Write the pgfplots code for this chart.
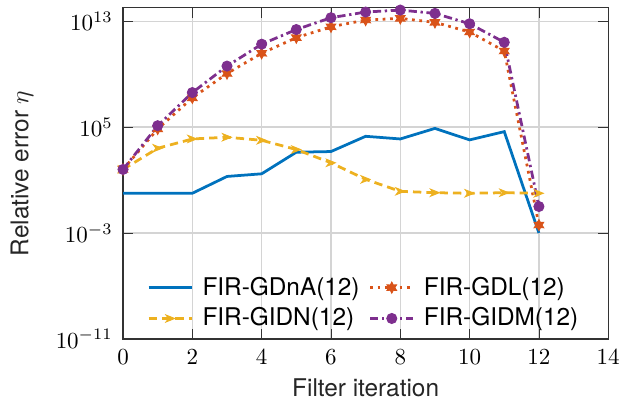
\documentclass[border=0pt]{standalone}
\usepackage{fontspec}
\setmainfont{TeX Gyre Heros}
\usepackage{pgfplots}
\pgfplotsset{compat=1.18}

\definecolor{mblue}{rgb}{0,0.447,0.741}
\definecolor{morange}{rgb}{0.85,0.325,0.098}
\definecolor{myellow}{rgb}{0.929,0.694,0.125}
\definecolor{mpurple}{rgb}{0.494,0.184,0.556}

% filled six-point star
\pgfdeclareplotmark{hexstar}{%
  \pgfpathmoveto{\pgfpointpolar{90}{\pgfplotmarksize}}%
  \pgfpathlineto{\pgfpointpolar{120}{0.55\pgfplotmarksize}}%
  \pgfpathlineto{\pgfpointpolar{150}{\pgfplotmarksize}}%
  \pgfpathlineto{\pgfpointpolar{180}{0.55\pgfplotmarksize}}%
  \pgfpathlineto{\pgfpointpolar{210}{\pgfplotmarksize}}%
  \pgfpathlineto{\pgfpointpolar{240}{0.55\pgfplotmarksize}}%
  \pgfpathlineto{\pgfpointpolar{270}{\pgfplotmarksize}}%
  \pgfpathlineto{\pgfpointpolar{300}{0.55\pgfplotmarksize}}%
  \pgfpathlineto{\pgfpointpolar{330}{\pgfplotmarksize}}%
  \pgfpathlineto{\pgfpointpolar{0}{0.55\pgfplotmarksize}}%
  \pgfpathlineto{\pgfpointpolar{30}{\pgfplotmarksize}}%
  \pgfpathlineto{\pgfpointpolar{60}{0.55\pgfplotmarksize}}%
  \pgfpathclose
  \pgfusepathqfillstroke}
% arrow head pointing right
\pgfdeclareplotmark{arrowhead}{%
  \pgfpathmoveto{\pgfqpoint{\pgfplotmarksize}{0pt}}%
  \pgfpathlineto{\pgfqpoint{-\pgfplotmarksize}{0.8\pgfplotmarksize}}%
  \pgfpathlineto{\pgfqpoint{-0.4\pgfplotmarksize}{0pt}}%
  \pgfpathlineto{\pgfqpoint{-\pgfplotmarksize}{-0.8\pgfplotmarksize}}%
  \pgfpathclose
  \pgfusepathqfillstroke}

\newcommand{\labfont}{\fontsize{10.6}{12.7}\selectfont}

\begin{document}
\begin{tikzpicture}
\begin{axis}[
    scale only axis,
    width=211pt,
    height=144pt,
    xmin=0, xmax=14,
    ymode=log,
    ymin=1e-11, ymax=1e14,
    xtick={0,2,...,14},
    ytick={1e-11,1e-3,1e5,1e13},
    grid=major,
    major grid style={black!17, line width=0.5pt},
    axis line style={black!80, line width=0.5pt},
    tick style={black!80},
    xticklabel style={yshift=-1pt},
    yticklabel style={xshift=-1pt},
    xlabel={Filter iteration},
    ylabel={Relative error $\eta$},
    every axis x label/.style={at={(rel axis cs:0.5,0)}, yshift=-21.3pt,
        anchor=center, font=\labfont, text=black!85},
    every axis y label/.style={at={(rel axis cs:0,0.5)}, xshift=-44pt,
        rotate=90, anchor=center, font=\labfont, text=black!85},
    every axis plot/.append style={line width=1.2pt},
    legend columns=2,
    legend style={at={(0.035,0.0)}, anchor=south west, draw=none, fill=none,
        font=\labfont, column sep=2pt, row sep=0pt},
    legend cell align=left,
    legend image code/.code={%
        \draw[mark repeat=2,mark phase=2,#1]
        plot coordinates {(0cm,0cm) (0.33cm,0cm) (0.66cm,0cm)};},
]
\coordinate (sw) at (rel axis cs:0,0);
% FIR-GDnA(12)
\addplot[color=mblue, solid] coordinates {
(0,1) (1,1) (2,1) (3,18.6) (4,29.5) (5,1259) (6,1413) (7,2e4)
(8,1.26e4) (9,7.9e4) (10,1.07e4) (11,4.5e4) (12,1e-3)
};
\addlegendentry{FIR-GDnA(12)}
% FIR-GDL(12)
\addplot[color=morange, dash pattern=on 1.2pt off 2pt, mark=hexstar,
    mark size=2.4pt, mark options={solid, fill=morange, line width=0.4pt}]
coordinates {
(0,63) (1,7.2e4) (2,1.6e7) (3,1.1e9) (4,3.7e10) (5,5.6e11) (6,3.7e12)
(7,1.2e13) (8,1.6e13) (9,8e12) (10,1.5e12) (11,5.5e10) (12,4e-3)
};
\addlegendentry{FIR-GDL(12)}
% FIR-GIDN(12)
\addplot[color=myellow, dash pattern=on 3.6pt off 2.2pt, mark=arrowhead,
    mark size=1.9pt, mark options={solid, fill=myellow, line width=0.4pt}]
coordinates {
(0,63) (1,2.5e3) (2,1.26e4) (3,1.7e4) (4,1e4) (5,2e3) (6,200)
(7,11.2) (8,1.4) (9,1.1) (10,1) (11,1.1) (12,1)
};
\addlegendentry{FIR-GIDN(12)}
% FIR-GIDM(12)
\addplot[color=mpurple, dash pattern=on 3.6pt off 1.6pt on 1pt off 1.6pt,
    mark=*, mark size=2.2pt, mark options={solid, fill=mpurple, line width=0.4pt}]
coordinates {
(0,63) (1,1.26e5) (2,4e7) (3,4e9) (4,1.8e11) (5,2.3e12) (6,1.8e13)
(7,4.8e13) (8,6.8e13) (9,3.8e13) (10,6.3e12) (11,2.5e11) (12,0.1)
};
\addlegendentry{FIR-GIDM(12)}
\end{axis}
\pgfresetboundingbox
\path ([shift={(-53.5pt,-27.4pt)}]sw) rectangle ++(277pt,174.8pt);
\end{tikzpicture}
\end{document}
